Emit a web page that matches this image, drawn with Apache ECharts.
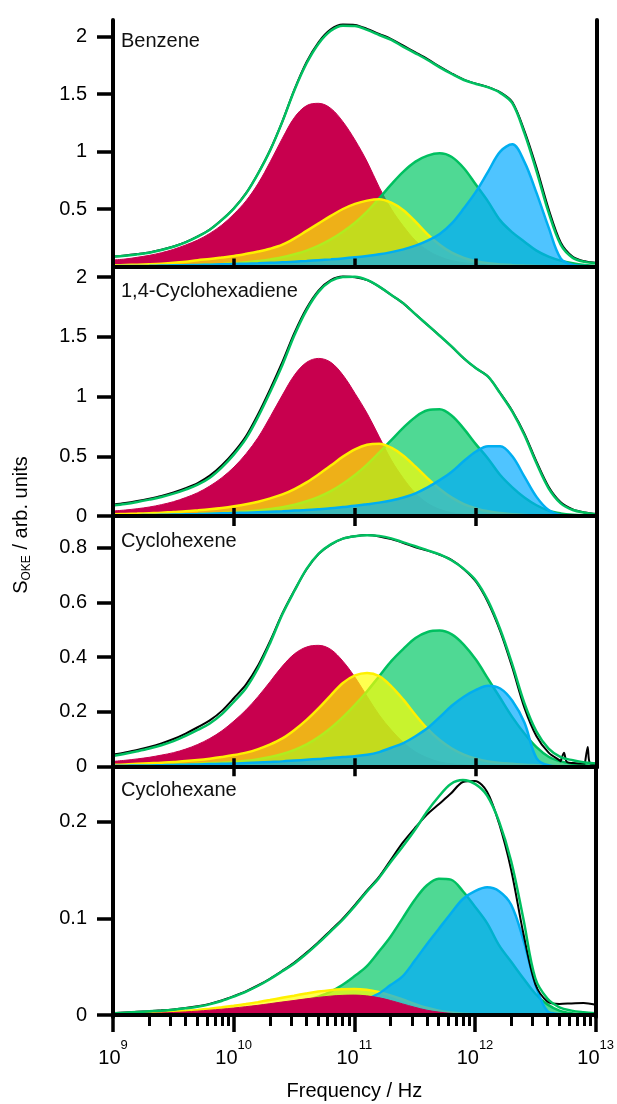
<!DOCTYPE html>
<html>
<head>
<meta charset="utf-8">
<title>OKE spectra</title>
<script src="https://cdn.jsdelivr.net/npm/echarts/dist/echarts.min.js"></script>
<style>
  html, body { margin: 0; padding: 0; background: #fff; }
  #chart { width: 617px; height: 1104px; }
</style>
</head>
<body>
<div id="chart"></div>
<script>
// ---- data -------------------------------------------------------------
// log10 of frequency (Hz), shared sampling grid for every curve
const LOG_FREQ = [9.0, 9.1, 9.2, 9.3, 9.4, 9.5, 9.6, 9.7, 9.8, 9.9,
  10.0, 10.1, 10.2, 10.3, 10.4, 10.5, 10.6, 10.7, 10.8, 10.9,
  11.0, 11.1, 11.2, 11.3, 11.4, 11.5, 11.6, 11.7, 11.8, 11.9,
  12.0, 12.1, 12.2, 12.3, 12.4, 12.5, 12.6, 12.7, 12.8, 12.9, 13.0];

const SAMPLES = ['Benzene', '1,4-Cyclohexadiene', 'Cyclohexene', 'Cyclohexane'];

const X_MAJOR = [9, 10, 11, 12, 13];
const Y_TICKS = [[0.5, 1, 1.5, 2], [0, 0.5, 1, 1.5, 2], [0, 0.2, 0.4, 0.6, 0.8], [0, 0.1, 0.2]];

// Benzene
const benzeneMeasured = [0.088, 0.096, 0.108, 0.122, 0.145, 0.174, 0.212, 0.262, 0.322, 0.407,
  0.508, 0.638, 0.812, 1.015, 1.262, 1.54, 1.778, 1.952, 2.062, 2.104,
  2.1, 2.066, 2.022, 1.978, 1.92, 1.862, 1.803, 1.738, 1.678, 1.625,
  1.59, 1.56, 1.515, 1.43, 1.18, 0.86, 0.5, 0.21, 0.085, 0.045, 0.03];
const benzeneFit = [0.086, 0.094, 0.106, 0.12, 0.143, 0.172, 0.21, 0.26, 0.32, 0.405,
  0.506, 0.636, 0.81, 1.013, 1.26, 1.535, 1.767, 1.94, 2.05, 2.094,
  2.091, 2.057, 2.013, 1.97, 1.91, 1.854, 1.796, 1.732, 1.674, 1.622,
  1.587, 1.558, 1.51, 1.42, 1.16, 0.83, 0.47, 0.19, 0.075, 0.04, 0.028];
const benzeneRed = [0.057, 0.065, 0.08, 0.097, 0.12, 0.149, 0.187, 0.23, 0.288, 0.361,
  0.457, 0.572, 0.723, 0.912, 1.115, 1.297, 1.399, 1.419, 1.375, 1.259,
  1.1, 0.912, 0.69, 0.5, 0.35, 0.225, 0.14, 0.086, 0.051, 0.033,
  0.022, 0.015, 0.01, 0.007, 0.005, 0.003, 0.002, 0.001, 0, 0, 0];
const benzeneYellow = [0.01, 0.013, 0.016, 0.02, 0.025, 0.032, 0.042, 0.055, 0.065, 0.078,
  0.092, 0.11, 0.13, 0.155, 0.19, 0.245, 0.31, 0.375, 0.44, 0.5,
  0.545, 0.573, 0.585, 0.555, 0.49, 0.39, 0.28, 0.19, 0.12, 0.075,
  0.045, 0.028, 0.018, 0.012, 0.008, 0.005, 0.003, 0.001, 0, 0, 0];
const benzeneGreen = [0.004, 0.005, 0.006, 0.007, 0.008, 0.01, 0.011, 0.013, 0.016, 0.02,
  0.028, 0.036, 0.048, 0.062, 0.08, 0.106, 0.138, 0.181, 0.236, 0.303,
  0.381, 0.477, 0.593, 0.714, 0.825, 0.912, 0.964, 0.984, 0.952, 0.854,
  0.71, 0.564, 0.401, 0.297, 0.216, 0.138, 0.086, 0.051, 0.028, 0.013, 0.004];
const benzeneBlue = [0.003, 0.004, 0.005, 0.006, 0.008, 0.01, 0.012, 0.014, 0.016, 0.019,
  0.022, 0.025, 0.028, 0.032, 0.036, 0.042, 0.048, 0.055, 0.062, 0.07,
  0.08, 0.092, 0.106, 0.125, 0.149, 0.181, 0.225, 0.283, 0.375, 0.506,
  0.651, 0.825, 0.999, 1.062, 0.91, 0.64, 0.34, 0.07, 0.013, 0.004, 0.001];

// 1,4-Cyclohexadiene
const cyclohexadieneMeasured = [0.095, 0.108, 0.125, 0.145, 0.168, 0.197, 0.233, 0.276, 0.338, 0.425,
  0.535, 0.67, 0.855, 1.065, 1.29, 1.535, 1.74, 1.89, 1.975, 2.005,
  2.0, 1.975, 1.921, 1.851, 1.781, 1.689, 1.6, 1.51, 1.418, 1.32,
  1.237, 1.167, 1.03, 0.88, 0.69, 0.455, 0.245, 0.115, 0.055, 0.03, 0.016];
const cyclohexadieneFit = [0.087, 0.1, 0.117, 0.137, 0.159, 0.187, 0.221, 0.262, 0.321, 0.408,
  0.516, 0.65, 0.832, 1.041, 1.265, 1.516, 1.725, 1.879, 1.968, 2.002,
  2.004, 1.977, 1.921, 1.851, 1.781, 1.689, 1.6, 1.51, 1.418, 1.32,
  1.237, 1.167, 1.027, 0.874, 0.678, 0.441, 0.232, 0.106, 0.05, 0.028, 0.014];
const cyclohexadieneRed = [0.042, 0.05, 0.061, 0.075, 0.095, 0.12, 0.154, 0.195, 0.251, 0.321,
  0.41, 0.522, 0.659, 0.832, 1.013, 1.181, 1.287, 1.32, 1.287, 1.181,
  1.027, 0.86, 0.664, 0.469, 0.315, 0.19, 0.106, 0.056, 0.028, 0.014,
  0.008, 0.005, 0.003, 0.002, 0.001, 0, 0, 0, 0, 0, 0];
const cyclohexadieneYellow = [0.014, 0.017, 0.02, 0.024, 0.028, 0.034, 0.039, 0.047, 0.056, 0.067,
  0.081, 0.098, 0.12, 0.148, 0.181, 0.226, 0.282, 0.349, 0.422, 0.497,
  0.558, 0.597, 0.606, 0.572, 0.505, 0.413, 0.315, 0.226, 0.154, 0.1,
  0.064, 0.039, 0.025, 0.014, 0.008, 0.005, 0.003, 0.001, 0, 0, 0];
const cyclohexadieneGreen = [0.004, 0.005, 0.006, 0.007, 0.009, 0.011, 0.013, 0.016, 0.02, 0.025,
  0.031, 0.038, 0.047, 0.059, 0.074, 0.095, 0.123, 0.16, 0.208, 0.27,
  0.343, 0.43, 0.53, 0.635, 0.74, 0.83, 0.885, 0.893, 0.84, 0.73,
  0.6, 0.48, 0.343, 0.24, 0.155, 0.09, 0.045, 0.022, 0.01, 0.005, 0.002];
const cyclohexadieneBlue = [0.005, 0.006, 0.007, 0.008, 0.01, 0.012, 0.014, 0.016, 0.019, 0.022,
  0.025, 0.028, 0.032, 0.036, 0.04, 0.045, 0.05, 0.057, 0.065, 0.075,
  0.085, 0.098, 0.112, 0.13, 0.155, 0.19, 0.24, 0.3, 0.37, 0.46,
  0.54, 0.585, 0.585, 0.5, 0.33, 0.16, 0.05, 0.008, 0.002, 0, 0];

// Cyclohexene
const cyclohexeneMeasured = [0.043, 0.051, 0.06, 0.071, 0.084, 0.1, 0.12, 0.143, 0.168, 0.203,
  0.25, 0.3, 0.37, 0.46, 0.56, 0.645, 0.722, 0.778, 0.812, 0.834,
  0.843, 0.847, 0.842, 0.832, 0.818, 0.802, 0.79, 0.775, 0.755, 0.722,
  0.676, 0.6, 0.495, 0.362, 0.215, 0.11, 0.05, 0.019, 0.012, 0.01, 0.008];
// narrow features of the measured trace between grid points: [log10 f, value]
const cyclohexeneMeasuredExtra = [[12.705, 0.018], [12.727, 0.05], [12.75, 0.016],
  [12.905, 0.011], [12.923, 0.071], [12.942, 0.011]];
const cyclohexeneFit = [0.038, 0.046, 0.055, 0.065, 0.077, 0.092, 0.111, 0.133, 0.157, 0.191,
  0.237, 0.287, 0.36, 0.453, 0.557, 0.643, 0.723, 0.779, 0.813, 0.834,
  0.843, 0.846, 0.844, 0.835, 0.82, 0.806, 0.791, 0.776, 0.754, 0.723,
  0.68, 0.606, 0.502, 0.373, 0.231, 0.127, 0.065, 0.034, 0.022, 0.014, 0.01];
const cyclohexeneRed = [0.018, 0.022, 0.027, 0.033, 0.041, 0.05, 0.063, 0.08, 0.102, 0.13,
  0.166, 0.207, 0.256, 0.311, 0.367, 0.412, 0.437, 0.443, 0.428, 0.385,
  0.326, 0.256, 0.188, 0.133, 0.087, 0.053, 0.031, 0.016, 0.009, 0.005,
  0.003, 0.002, 0.001, 0, 0, 0, 0, 0, 0, 0, 0];
const cyclohexeneYellow = [0.006, 0.007, 0.009, 0.011, 0.013, 0.016, 0.019, 0.023, 0.028, 0.034,
  0.041, 0.05, 0.063, 0.08, 0.102, 0.133, 0.17, 0.213, 0.26, 0.305,
  0.333, 0.342, 0.33, 0.293, 0.244, 0.188, 0.137, 0.096, 0.065, 0.043,
  0.028, 0.018, 0.012, 0.009, 0.006, 0.004, 0.002, 0.001, 0, 0, 0];
const cyclohexeneGreen = [0.002, 0.003, 0.003, 0.004, 0.005, 0.006, 0.007, 0.009, 0.011, 0.013,
  0.016, 0.02, 0.026, 0.034, 0.045, 0.06, 0.08, 0.107, 0.14, 0.18,
  0.225, 0.275, 0.33, 0.385, 0.43, 0.47, 0.492, 0.497, 0.483, 0.445,
  0.39, 0.32, 0.25, 0.18, 0.12, 0.07, 0.035, 0.018, 0.009, 0.004, 0.002];
const cyclohexeneBlue = [0.002, 0.002, 0.003, 0.003, 0.004, 0.005, 0.006, 0.007, 0.008, 0.009,
  0.01, 0.012, 0.014, 0.016, 0.018, 0.021, 0.024, 0.027, 0.03, 0.034,
  0.037, 0.042, 0.052, 0.068, 0.085, 0.11, 0.14, 0.18, 0.222, 0.255,
  0.28, 0.295, 0.285, 0.24, 0.16, 0.03, 0.004, 0.001, 0, 0, 0];

// Cyclohexane
const cyclohexaneMeasured = [0.0019, 0.0026, 0.0033, 0.004, 0.0048, 0.0058, 0.0072, 0.009, 0.0115, 0.015,
  0.0195, 0.0245, 0.0305, 0.0375, 0.0455, 0.054, 0.064, 0.075, 0.087, 0.099,
  0.113, 0.128, 0.142, 0.16, 0.178, 0.193, 0.207, 0.218, 0.229, 0.241,
  0.242, 0.231, 0.198, 0.15, 0.085, 0.032, 0.014, 0.0115, 0.012, 0.0125, 0.0105];
const cyclohexaneFit = [0.0017, 0.0024, 0.0031, 0.0038, 0.0045, 0.0055, 0.0069, 0.0086, 0.011, 0.0145,
  0.019, 0.024, 0.03, 0.037, 0.045, 0.053, 0.063, 0.074, 0.086, 0.098,
  0.112, 0.127, 0.141, 0.158, 0.174, 0.191, 0.21, 0.226, 0.239, 0.243,
  0.239, 0.227, 0.2, 0.159, 0.1, 0.038, 0.017, 0.008, 0.0045, 0.0028, 0.0017];
const cyclohexaneRed = [0.0007, 0.001, 0.0013, 0.0017, 0.0021, 0.0026, 0.0032, 0.004, 0.005, 0.006,
  0.0072, 0.0086, 0.01, 0.0117, 0.0134, 0.015, 0.0167, 0.0182, 0.0195, 0.0203,
  0.0206, 0.0198, 0.018, 0.015, 0.0115, 0.008, 0.005, 0.003, 0.0017, 0.001,
  0.0005, 0.0003, 0.0002, 0.0001, 0, 0, 0, 0, 0, 0, 0];
const cyclohexaneYellow = [0.001, 0.0013, 0.0017, 0.0022, 0.0028, 0.0035, 0.0043, 0.0053, 0.0065, 0.0079,
  0.0095, 0.0113, 0.0133, 0.0155, 0.0178, 0.02, 0.0222, 0.0242, 0.0257, 0.0266,
  0.0268, 0.026, 0.0238, 0.0203, 0.016, 0.0115, 0.0075, 0.0045, 0.0025, 0.0013,
  0.0006, 0.0003, 0, 0, 0, 0, 0, 0, 0, 0, 0];
const cyclohexaneGreen = [0.0005, 0.0006, 0.0008, 0.001, 0.0012, 0.0015, 0.0018, 0.0022, 0.0027, 0.0033,
  0.004, 0.005, 0.006, 0.0075, 0.0095, 0.012, 0.015, 0.019, 0.024, 0.031,
  0.04, 0.05, 0.065, 0.081, 0.1, 0.119, 0.134, 0.141, 0.14, 0.128,
  0.112, 0.095, 0.072, 0.055, 0.038, 0.022, 0.011, 0.0045, 0.0017, 0.0007, 0.0003];
const cyclohexaneBlue = [0.0003, 0.0004, 0.0005, 0.0006, 0.0008, 0.001, 0.0012, 0.0015, 0.0018, 0.0022,
  0.0027, 0.0033, 0.004, 0.005, 0.006, 0.0075, 0.009, 0.011, 0.013, 0.015,
  0.016, 0.017, 0.022, 0.031, 0.04, 0.056, 0.073, 0.089, 0.105, 0.12,
  0.128, 0.132, 0.128, 0.114, 0.078, 0.032, 0.004, 0.001, 0, 0, 0];

// ---- styling / layout -------------------------------------------------
const FONT = '"Liberation Sans", Arial, Helvetica, sans-serif';
const COLORS = {
  red:    { line: '#C8004E', fill: 'rgba(200,0,78,1)' },
  yellow: { line: '#FFF000', fill: 'rgba(255,255,0,0.69)' },
  green:  { line: '#00C060', fill: 'rgba(0,200,100,0.69)' },
  blue:   { line: '#00AEF0', fill: 'rgba(0,170,255,0.69)' },
  fit: '#00C060',
  measured: '#000000'
};
// plot rows: top/height in px and the value range of each y axis
const ROWS = [
  { top: 20,  height: 248, min: -0.013,  max: 2.1435 },
  { top: 268, height: 250, min: -0.0168, max: 2.0771 },
  { top: 518, height: 249, min: -0.0026, max: 0.9095 },
  { top: 767, height: 250, min: -0.00207, max: 0.2565 }
];
const LABEL_POS = [41, 291, 541, 790];

const panels = [
  { measured: benzeneMeasured, extra: [], fit: benzeneFit,
    bands: { red: benzeneRed, yellow: benzeneYellow, green: benzeneGreen, blue: benzeneBlue },
    order: ['red', 'green', 'yellow', 'blue'] },
  { measured: cyclohexadieneMeasured, extra: [], fit: cyclohexadieneFit,
    bands: { red: cyclohexadieneRed, yellow: cyclohexadieneYellow, green: cyclohexadieneGreen, blue: cyclohexadieneBlue },
    order: ['red', 'green', 'yellow', 'blue'] },
  { measured: cyclohexeneMeasured, extra: cyclohexeneMeasuredExtra, fit: cyclohexeneFit,
    bands: { red: cyclohexeneRed, yellow: cyclohexeneYellow, green: cyclohexeneGreen, blue: cyclohexeneBlue },
    order: ['red', 'green', 'yellow', 'blue'] },
  { measured: cyclohexaneMeasured, extra: [], fit: cyclohexaneFit,
    bands: { red: cyclohexaneRed, yellow: cyclohexaneYellow, green: cyclohexaneGreen, blue: cyclohexaneBlue },
    order: ['green', 'yellow', 'blue', 'red'] }
];

// minor tick positions (2..9 x 10^n) on the frequency axis
const X_MINOR = [];
for (let d = 9; d < 13; d++) {
  for (let m = 2; m <= 9; m++) X_MINOR.push(d + Math.log10(m));
}

const pairs = (ys) => LOG_FREQ.map((x, i) => [x, ys[i]]);
const withExtra = (ys, extra) => pairs(ys).concat(extra).sort((a, b) => a[0] - b[0]);

const frame = { show: true, lineStyle: { color: '#000', width: 4 } };
const tickStyle = { color: '#000', width: 3.5 };
const grid = [], xAxis = [], yAxis = [], series = [];

ROWS.forEach((row, i) => {
  const last = i === ROWS.length - 1;
  grid.push({ left: 113, right: 20, top: row.top, height: row.height });

  const xMain = xAxis.length;
  xAxis.push({
    gridIndex: i, type: 'value', min: 9, max: 13, interval: 1, position: 'bottom', z: 10,
    axisLine: frame,
    axisTick: last
      ? { show: true, inside: false, length: 17, customValues: X_MAJOR, lineStyle: tickStyle }
      : { show: true, inside: true, length: 8, customValues: [10, 11, 12], lineStyle: tickStyle },
    axisLabel: last ? {
      show: true, customValues: X_MAJOR, margin: 22, color: '#000',
      formatter: (v) => '{b|10}{s|' + Math.round(v) + '}',
      rich: {
        b: { fontSize: 20, lineHeight: 38, fontFamily: FONT, color: '#000' },
        s: { fontSize: 13, lineHeight: 14, verticalAlign: 'top', fontFamily: FONT, color: '#000' }
      }
    } : { show: false },
    splitLine: { show: false },
    name: last ? 'Frequency / Hz' : '',
    nameLocation: 'middle', nameGap: 64,
    nameTextStyle: { fontSize: 20, fontFamily: FONT, color: '#000' }
  });
  xAxis.push({
    gridIndex: i, type: 'value', min: 9, max: 13, interval: 1, position: 'top', z: 10,
    axisLine: frame,
    axisTick: i > 0
      ? { show: true, inside: true, length: 10, customValues: [10, 11, 12], lineStyle: tickStyle }
      : { show: false },
    axisLabel: { show: false }, splitLine: { show: false }
  });
  if (last) {
    xAxis.push({
      gridIndex: i, type: 'value', min: 9, max: 13, interval: 1, position: 'bottom', z: 10,
      axisLine: { show: false },
      axisTick: { show: true, inside: false, length: 9, customValues: X_MINOR, lineStyle: { color: '#000', width: 3 } },
      axisLabel: { show: false }, splitLine: { show: false }
    });
  }

  const yLeft = yAxis.length;
  yAxis.push({
    gridIndex: i, type: 'value', min: row.min, max: row.max, position: 'left', z: 10,
    axisLine: frame,
    axisTick: { show: true, inside: false, length: 16, customValues: Y_TICKS[i], lineStyle: tickStyle },
    axisLabel: { show: true, customValues: Y_TICKS[i], margin: 26, fontSize: 20, fontFamily: FONT, color: '#000' },
    splitLine: { show: false }
  });
  yAxis.push({
    gridIndex: i, type: 'value', min: row.min, max: row.max, position: 'right', z: 10,
    axisLine: frame, axisTick: { show: false }, axisLabel: { show: false }, splitLine: { show: false }
  });

  const p = panels[i];
  p.order.forEach((key, k) => {
    series.push({
      type: 'line', xAxisIndex: xMain, yAxisIndex: yLeft,
      data: pairs(p.bands[key]), symbol: 'none', smooth: 0.35, z: 2 + k * 0.1,
      lineStyle: { color: COLORS[key].line, width: key === 'red' ? 1 : 2.5 },
      areaStyle: { color: COLORS[key].fill, opacity: 1 }
    });
  });
  series.push({
    type: 'line', xAxisIndex: xMain, yAxisIndex: yLeft,
    data: withExtra(p.measured, p.extra), symbol: 'none', smooth: 0.3, z: 3,
    lineStyle: { color: COLORS.measured, width: 2 }
  });
  series.push({
    type: 'line', xAxisIndex: xMain, yAxisIndex: yLeft,
    data: pairs(p.fit), symbol: 'none', smooth: 0.35, z: 4,
    lineStyle: { color: COLORS.fit, width: 2.5 }
  });
});

const graphic = SAMPLES.map((name, i) => ({
  type: 'text', x: 121, y: LABEL_POS[i], z: 20,
  style: { text: name, fontSize: 20, fontFamily: FONT, fill: '#111', verticalAlign: 'middle' }
}));
graphic.push({
  type: 'text', x: 22, y: 525, rotation: Math.PI / 2, z: 20,
  style: {
    text: '{a|S}{b|OKE}{a| / arb. units}', align: 'center', verticalAlign: 'middle', fill: '#000',
    rich: {
      a: { fontSize: 20, lineHeight: 22, verticalAlign: 'top', fontFamily: FONT, fill: '#000' },
      b: { fontSize: 12, lineHeight: 12, verticalAlign: 'bottom', fontFamily: FONT, fill: '#000' }
    }
  }
});

const chart = echarts.init(document.getElementById('chart'), null, { renderer: 'canvas' });
chart.setOption({
  animation: false,
  backgroundColor: '#fff',
  textStyle: { fontFamily: FONT },
  grid, xAxis, yAxis, series, graphic
});
</script>
</body>
</html>
